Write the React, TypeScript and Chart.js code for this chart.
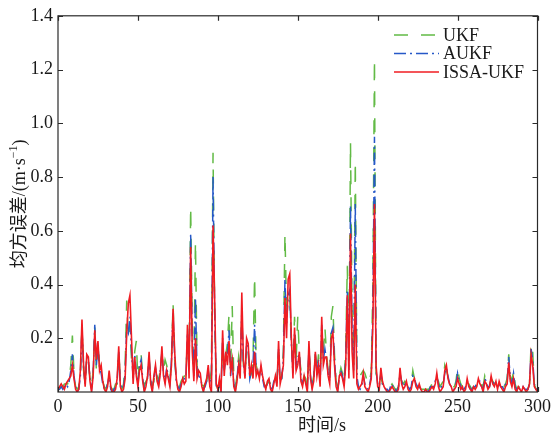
import React, { useEffect, useRef } from "react";
import { Chart, registerables } from "chart.js";

Chart.register(...registerables);

const seriesNames = ["UKF", "AUKF", "ISSA-UKF"];
const xTickValues = [0, 50, 100, 150, 200, 250, 300];
const yTickValues = [0.2, 0.4, 0.6, 0.8, 1.0, 1.2, 1.4];

// ISSA-UKF (red)
const issaUkf = [
  0.01,0.02,0.03,0.02,0.01,0.03,0.04,0.05,0.06,0.10,
  0.05,0.01,0.00,0.01,0.08,0.27,0.10,0.02,0.14,0.13,
  0.04,0.00,0.06,0.23,0.12,0.19,0.08,0.10,0.04,0.01,
  0.00,0.02,0.08,0.02,0.00,0.00,0.01,0.05,0.17,0.02,
  0.00,0.01,0.05,0.22,0.33,0.36,0.20,0.03,0.13,0.06,
  0.02,0.08,0.10,0.04,0.00,0.02,0.06,0.15,0.03,0.00,
  0.06,0.10,0.04,0.02,0.07,0.17,0.06,0.03,0.08,0.05,
  0.02,0.10,0.31,0.15,0.05,0.01,0.00,0.02,0.05,0.03,
  0.04,0.25,0.05,0.54,0.15,0.04,0.20,0.05,0.08,0.07,
  0.02,0.00,0.03,0.05,0.10,0.02,0.00,0.62,0.35,0.03,
  0.01,0.05,0.00,0.23,0.06,0.15,0.10,0.19,0.08,0.12,
  0.02,0.00,0.04,0.10,0.05,0.37,0.12,0.05,0.20,0.18,
  0.06,0.10,0.05,0.15,0.06,0.08,0.05,0.10,0.06,0.03,
  0.01,0.04,0.05,0.01,0.00,0.03,0.06,0.02,0.19,0.03,
  0.06,0.10,0.35,0.20,0.42,0.44,0.20,0.05,0.24,0.08,
  0.10,0.15,0.04,0.02,0.06,0.03,0.00,0.19,0.05,0.01,
  0.04,0.15,0.06,0.10,0.02,0.28,0.10,0.13,0.13,0.06,
  0.03,0.20,0.22,0.10,0.02,0.00,0.06,0.07,0.05,0.02,
  0.10,0.36,0.05,0.59,0.15,0.05,0.40,0.03,0.01,0.02,
  0.03,0.07,0.02,0.01,0.00,0.02,0.05,0.25,0.70,0.10,
  0.02,0.01,0.09,0.04,0.02,0.01,0.00,0.00,0.01,0.02,
  0.01,0.00,0.00,0.01,0.09,0.03,0.01,0.02,0.04,0.01,
  0.00,0.01,0.04,0.05,0.02,0.01,0.03,0.01,0.00,0.00,
  0.01,0.00,0.00,0.01,0.02,0.01,0.03,0.07,0.02,0.00,
  0.01,0.02,0.08,0.10,0.05,0.03,0.02,0.00,0.01,0.02,
  0.05,0.03,0.01,0.02,0.00,0.01,0.05,0.02,0.01,0.00,
  0.02,0.01,0.02,0.05,0.03,0.02,0.00,0.04,0.03,0.01,
  0.02,0.06,0.03,0.02,0.04,0.01,0.04,0.02,0.01,0.00,
  0.02,0.03,0.11,0.04,0.02,0.05,0.01,0.00,0.02,0.01,
  0.00,0.02,0.01,0.00,0.01,0.03,0.14,0.10,0.02,0.01,
  0.00,
];

// AUKF (blue)
const aukf = [
  0.01,0.01,0.02,0.01,0.02,0.03,0.02,0.04,0.08,0.14,
  0.06,0.02,0.00,0.01,0.06,0.24,0.09,0.03,0.13,0.12,
  0.05,0.01,0.07,0.25,0.10,0.17,0.09,0.07,0.03,0.01,
  0.01,0.03,0.06,0.01,0.00,0.01,0.02,0.04,0.15,0.03,
  0.01,0.02,0.07,0.24,0.22,0.28,0.15,0.05,0.14,0.07,
  0.03,0.10,0.12,0.05,0.01,0.03,0.05,0.13,0.04,0.01,
  0.05,0.09,0.05,0.03,0.08,0.15,0.07,0.04,0.09,0.06,
  0.03,0.12,0.30,0.13,0.04,0.02,0.01,0.03,0.04,0.05,
  0.05,0.22,0.08,0.59,0.20,0.06,0.35,0.08,0.06,0.05,
  0.03,0.01,0.02,0.04,0.08,0.03,0.05,0.80,0.30,0.02,
  0.00,0.03,0.01,0.20,0.08,0.12,0.14,0.23,0.06,0.13,
  0.03,0.01,0.05,0.12,0.07,0.30,0.10,0.06,0.18,0.16,
  0.05,0.08,0.10,0.25,0.08,0.07,0.06,0.09,0.05,0.02,
  0.02,0.03,0.04,0.02,0.01,0.04,0.05,0.03,0.16,0.04,
  0.05,0.12,0.42,0.25,0.36,0.38,0.18,0.07,0.22,0.10,
  0.13,0.14,0.06,0.03,0.05,0.04,0.01,0.16,0.06,0.02,
  0.05,0.14,0.07,0.12,0.03,0.25,0.12,0.16,0.12,0.07,
  0.04,0.22,0.24,0.12,0.03,0.01,0.05,0.08,0.06,0.03,
  0.12,0.38,0.08,0.69,0.22,0.08,0.70,0.06,0.02,0.01,
  0.02,0.06,0.03,0.02,0.01,0.03,0.06,0.30,0.95,0.08,
  0.03,0.02,0.07,0.03,0.02,0.01,0.01,0.00,0.02,0.03,
  0.01,0.01,0.00,0.02,0.07,0.04,0.02,0.03,0.03,0.02,
  0.01,0.02,0.06,0.05,0.03,0.02,0.02,0.01,0.01,0.00,
  0.01,0.01,0.00,0.02,0.02,0.02,0.04,0.06,0.03,0.01,
  0.02,0.03,0.07,0.09,0.06,0.03,0.02,0.01,0.01,0.03,
  0.07,0.04,0.02,0.01,0.01,0.02,0.04,0.03,0.01,0.01,
  0.02,0.02,0.03,0.04,0.04,0.02,0.01,0.05,0.04,0.02,
  0.02,0.05,0.04,0.03,0.03,0.02,0.03,0.02,0.02,0.01,
  0.03,0.04,0.13,0.05,0.03,0.07,0.02,0.01,0.02,0.01,
  0.01,0.02,0.01,0.01,0.01,0.03,0.16,0.12,0.03,0.01,
  0.01,
];

// UKF (green)
const ukf = [
  0.01,0.02,0.02,0.02,0.03,0.03,0.03,0.05,0.10,0.21,
  0.07,0.02,0.01,0.02,0.07,0.24,0.08,0.03,0.13,0.12,
  0.05,0.02,0.08,0.24,0.08,0.18,0.10,0.06,0.04,0.02,
  0.01,0.03,0.05,0.02,0.01,0.01,0.03,0.03,0.15,0.04,
  0.01,0.03,0.10,0.34,0.20,0.25,0.12,0.06,0.15,0.19,
  0.04,0.12,0.14,0.06,0.02,0.04,0.05,0.12,0.05,0.02,
  0.04,0.08,0.06,0.04,0.09,0.14,0.08,0.12,0.10,0.07,
  0.04,0.13,0.33,0.12,0.05,0.03,0.02,0.04,0.05,0.06,
  0.06,0.20,0.10,0.69,0.25,0.08,0.56,0.10,0.05,0.04,
  0.03,0.02,0.03,0.04,0.07,0.04,0.08,0.89,0.30,0.03,
  0.01,0.02,0.02,0.18,0.10,0.14,0.18,0.29,0.08,0.32,
  0.05,0.02,0.06,0.13,0.08,0.28,0.10,0.07,0.17,0.15,
  0.05,0.07,0.12,0.43,0.10,0.07,0.07,0.08,0.05,0.03,
  0.02,0.03,0.04,0.03,0.02,0.05,0.05,0.04,0.15,0.05,
  0.05,0.15,0.59,0.30,0.32,0.35,0.17,0.10,0.28,0.12,
  0.28,0.14,0.08,0.04,0.06,0.05,0.02,0.15,0.07,0.03,
  0.06,0.14,0.08,0.14,0.04,0.22,0.14,0.24,0.14,0.08,
  0.05,0.28,0.32,0.14,0.04,0.02,0.06,0.09,0.07,0.04,
  0.15,0.47,0.10,0.93,0.30,0.10,0.86,0.08,0.05,0.06,
  0.07,0.08,0.07,0.05,0.03,0.04,0.08,0.40,1.24,0.07,
  0.04,0.03,0.06,0.03,0.03,0.02,0.01,0.01,0.02,0.03,
  0.02,0.01,0.01,0.02,0.06,0.04,0.03,0.04,0.03,0.02,
  0.02,0.03,0.08,0.05,0.03,0.02,0.02,0.01,0.01,0.01,
  0.01,0.01,0.01,0.02,0.03,0.02,0.04,0.05,0.04,0.02,
  0.03,0.04,0.10,0.08,0.06,0.04,0.03,0.02,0.02,0.04,
  0.09,0.05,0.03,0.02,0.01,0.02,0.04,0.03,0.02,0.01,
  0.02,0.02,0.03,0.04,0.05,0.03,0.02,0.06,0.04,0.03,
  0.02,0.05,0.04,0.03,0.03,0.02,0.03,0.02,0.02,0.02,
  0.03,0.05,0.14,0.06,0.04,0.08,0.03,0.01,0.02,0.02,
  0.01,0.02,0.02,0.01,0.01,0.03,0.18,0.15,0.03,0.01,
  0.01,
];

const GREEN = "rgb(98,186,70)";
const BLUE = "rgb(38,88,200)";
const RED = "rgb(240,28,34)";
const SERIF = '"Liberation Serif", "Times New Roman", serif';
const CJK = '"Liberation Serif", "Noto Sans CJK SC", serif';

const toPoints = (arr: number[]) => arr.map((v, i) => ({ x: i, y: v }));

const decorPlugin = {
  id: "decor",
  afterDraw(chart: any) {
    const { ctx, chartArea } = chart;
    const { left, top, right, bottom } = chartArea;
    const xs = chart.scales.x;
    const ys = chart.scales.y;
    ctx.save();
    // frame
    ctx.strokeStyle = "#2a2a2a";
    ctx.lineWidth = 1.2;
    ctx.setLineDash([]);
    ctx.strokeRect(left, top, right - left, bottom - top);
    // inward ticks
    const tl = 5;
    ctx.beginPath();
    yTickValues.forEach((v) => {
      const py = Math.round(ys.getPixelForValue(v)) + 0.5;
      ctx.moveTo(left, py);
      ctx.lineTo(left + tl, py);
      ctx.moveTo(right, py);
      ctx.lineTo(right - tl, py);
    });
    xTickValues.forEach((v) => {
      const px = Math.round(xs.getPixelForValue(v)) + 0.5;
      ctx.moveTo(px, bottom);
      ctx.lineTo(px, bottom - tl);
      ctx.moveTo(px, top);
      ctx.lineTo(px, top + tl);
    });
    ctx.stroke();

    // legend
    const legendItems = [
      { name: seriesNames[0], color: GREEN, dash: [14, 13] },
      { name: seriesNames[1], color: BLUE, dash: [12, 4, 2, 4] },
      { name: seriesNames[2], color: RED, dash: [] as number[] },
    ];
    const lx0 = 394;
    const lx1 = 439;
    const ly0 = 35;
    const lstep = 18.5;
    ctx.font = "18px " + SERIF;
    ctx.textBaseline = "middle";
    ctx.textAlign = "left";
    legendItems.forEach((it, i) => {
      const y = ly0 + i * lstep;
      ctx.beginPath();
      ctx.strokeStyle = it.color;
      ctx.lineWidth = 1.5;
      ctx.setLineDash(it.dash);
      ctx.moveTo(lx0, y);
      ctx.lineTo(lx1, y);
      ctx.stroke();
      ctx.setLineDash([]);
      ctx.fillStyle = "#1a1a1a";
      ctx.fillText(it.name, 443, y + 1);
    });

    // x title
    ctx.font = "18px " + CJK;
    ctx.textAlign = "center";
    ctx.textBaseline = "middle";
    ctx.fillStyle = "#1a1a1a";
    ctx.fillText("时间/s", 322, 426);

    // y title with superscript
    ctx.save();
    ctx.translate(20, (top + bottom) / 2);
    ctx.rotate(-Math.PI / 2);
    const mainTxt = "均方误差/(m·s";
    const supTxt = "−1";
    const closeTxt = ")";
    ctx.font = "18px " + CJK;
    const w1 = ctx.measureText(mainTxt).width;
    const w3 = ctx.measureText(closeTxt).width;
    ctx.font = "12px " + SERIF;
    const w2 = ctx.measureText(supTxt).width;
    const total = w1 + w2 + w3;
    let x = -total / 2;
    ctx.textAlign = "left";
    ctx.textBaseline = "middle";
    ctx.font = "18px " + CJK;
    ctx.fillText(mainTxt, x, 0);
    x += w1;
    ctx.font = "12px " + SERIF;
    ctx.fillText(supTxt, x, -6);
    x += w2;
    ctx.font = "18px " + CJK;
    ctx.fillText(closeTxt, x, 0);
    ctx.restore();

    ctx.restore();
  },
};

export default function App() {
  const ref = useRef<HTMLCanvasElement | null>(null);
  useEffect(() => {
    document.body.style.margin = "0";
    const canvas = ref.current;
    if (!canvas) return;
    const chart = new Chart(canvas, {
      type: "line",
      data: {
        datasets: [
          {
            label: seriesNames[2],
            data: toPoints(issaUkf),
            borderColor: RED,
            borderWidth: 1.6,
            pointRadius: 0,
            tension: 0,
          },
          {
            label: seriesNames[1],
            data: toPoints(aukf),
            borderColor: BLUE,
            borderWidth: 1.5,
            borderDash: [12, 4, 2, 4],
            pointRadius: 0,
            tension: 0,
          },
          {
            label: seriesNames[0],
            data: toPoints(ukf),
            borderColor: GREEN,
            borderWidth: 1.5,
            borderDash: [14, 13],
            pointRadius: 0,
            tension: 0,
          },
        ],
      },
      options: {
        animation: false,
        responsive: false,
        devicePixelRatio: 1,
        layout: { padding: { left: 0, top: 13, right: 15, bottom: 0 } },
        plugins: {
          legend: { display: false },
          tooltip: { enabled: false },
        },
        scales: {
          x: {
            type: "linear",
            min: 0,
            max: 300,
            grid: { display: false, drawTicks: false },
            border: { display: false },
            ticks: {
              stepSize: 50,
              padding: 4,
              color: "#1a1a1a",
              font: { family: SERIF, size: 18 },
              maxRotation: 0,
              callback: (v: any) => String(v),
            },
            afterFit: (s: any) => {
              s.height = 44;
            },
          },
          y: {
            type: "linear",
            min: 0,
            max: 1.4,
            grid: { display: false, drawTicks: false },
            border: { display: false },
            ticks: {
              stepSize: 0.2,
              padding: 5,
              color: "#1a1a1a",
              font: { family: SERIF, size: 18 },
              callback: (v: any) => (Math.abs(v) < 1e-9 ? "" : Number(v).toFixed(1)),
            },
            afterFit: (s: any) => {
              s.width = 58;
            },
          },
        },
      },
      plugins: [decorPlugin],
    });
    return () => chart.destroy();
  }, []);
  return <canvas ref={ref} width={555} height={436} style={{ display: "block" }} />;
}
